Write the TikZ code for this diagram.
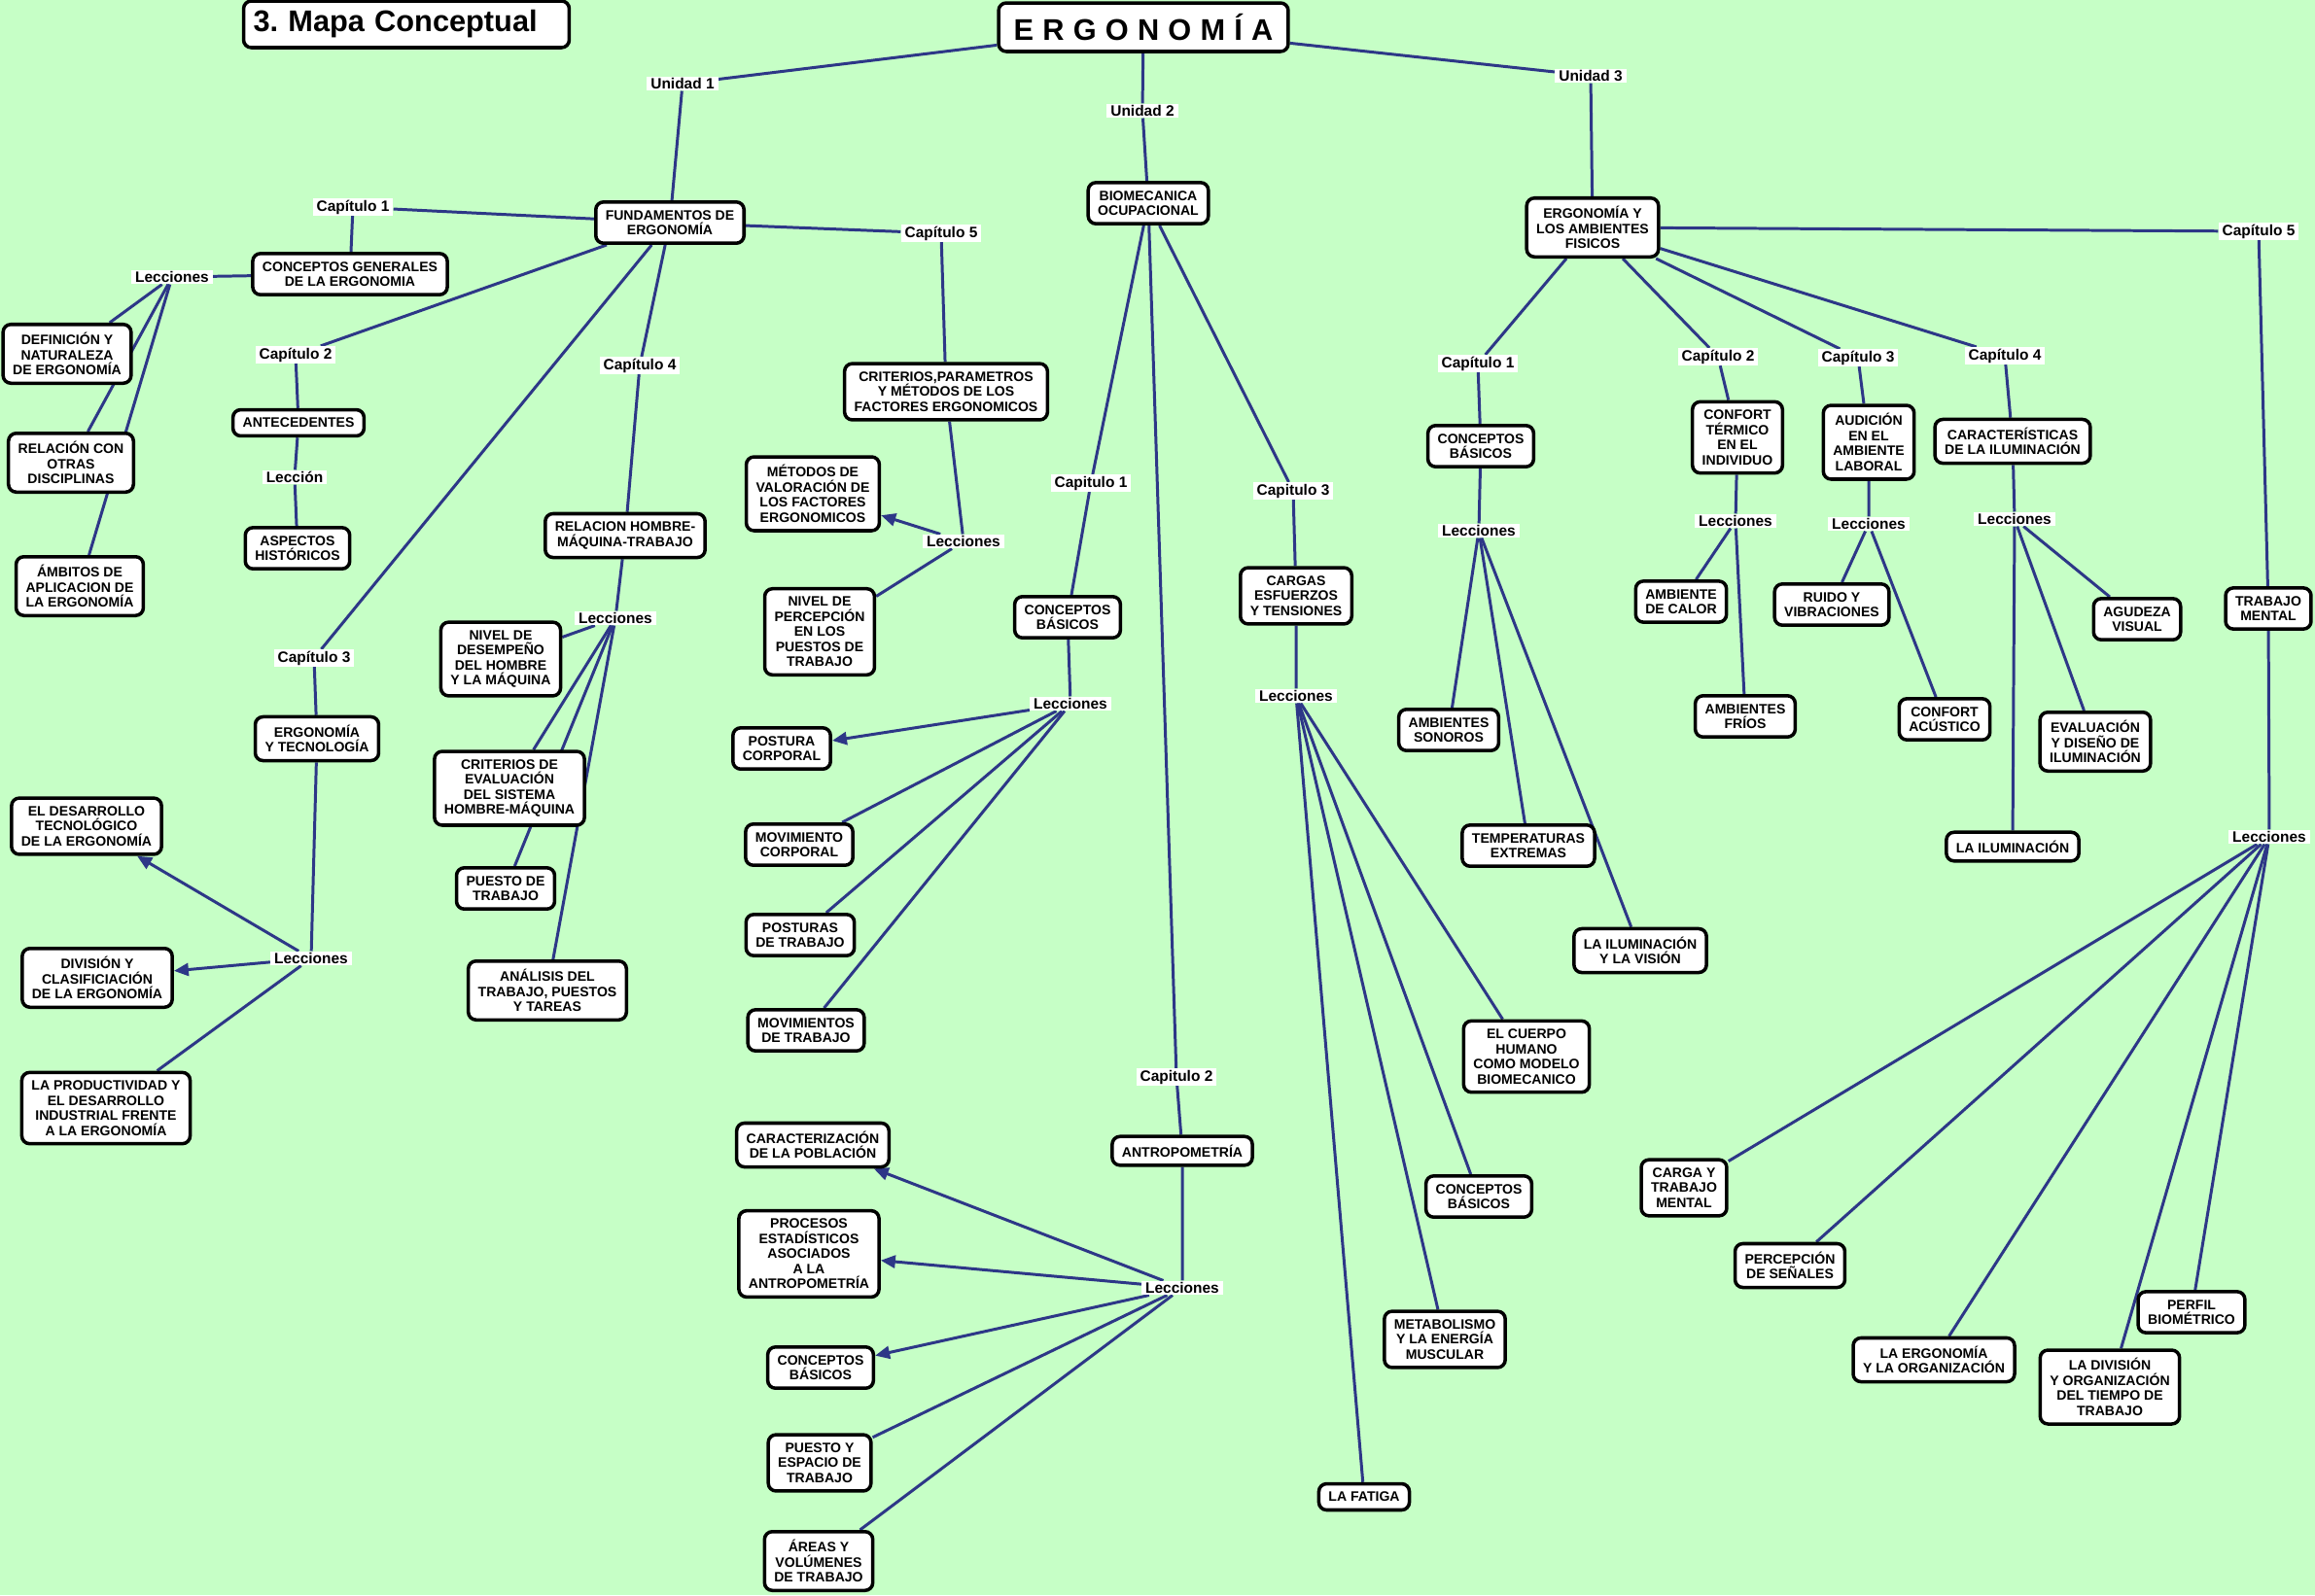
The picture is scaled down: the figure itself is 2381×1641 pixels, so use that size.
\documentclass[tikz,border=0pt]{standalone}
\usepackage{fontspec}
\setmainfont{Liberation Sans}
\usepackage{tikz}
\usepackage{xcolor}
\usetikzlibrary{shapes,arrows.meta,positioning,calc}
\definecolor{verdefondo}{RGB}{198,255,198}
\definecolor{azul}{RGB}{45,55,135}
\pgfdeclarelayer{bg}
\pgfsetlayers{bg,main}

\begin{document}
\begin{tikzpicture}[x=0.02cm,y=-0.02cm,
  concepto/.style={rectangle, draw, fill=white, rounded corners=0.16cm, line width=2pt, align=center, inner xsep=0.2cm, inner ysep=0.17cm, font=\fontsize{8}{8.8}\selectfont\bfseries},
  enlace/.style={fill=white, inner xsep=0.08cm, inner ysep=0.03cm, font=\fontsize{8.8}{10}\selectfont\bfseries},
  linea/.style={draw=azul, line width=1.7pt},
  flecha/.style={linea, -{Triangle[length=0.3cm,width=0.26cm]}}]

\useasboundingbox (0,0) rectangle (2381,1641);

\node[concepto, font=\fontsize{17.5}{20}\selectfont\bfseries, text width=6.3cm, align=left, minimum height=0.96cm] (titulo) at (418,25) {3.\ Mapa Conceptual};
\node[concepto, font=\fontsize{17.5}{20}\selectfont\bfseries\addfontfeatures{LetterSpace=30}, minimum width=5.96cm, minimum height=1cm] (ergo) at (1176,28) {ERGONOMÍA};

\node[enlace] (uni1) at (702,86) {Unidad 1};
\node[enlace] (uni2) at (1175,114) {Unidad 2};
\node[enlace] (uni3) at (1636,78) {Unidad 3};

% unidad 1
\node[concepto] (fund) at (689,229) {FUNDAMENTOS DE\\ERGONOMÍA};
\node[enlace] (cap11) at (363,213) {Capítulo 1};
\node[concepto] (cgen) at (360,282) {CONCEPTOS GENERALES\\DE LA ERGONOMIA};
\node[enlace] (lec11) at (177,285) {Lecciones};
\node[concepto] (defi) at (69,364) {DEFINICIÓN Y\\NATURALEZA\\DE ERGONOMÍA};
\node[concepto] (rela) at (73,476) {RELACIÓN CON\\OTRAS\\DISCIPLINAS};
\node[concepto] (ambi) at (82,603) {ÁMBITOS DE\\APLICACION DE\\LA ERGONOMÍA};
\node[enlace] (cap12) at (304,365) {Capítulo 2};
\node[concepto] (ante) at (307,435) {ANTECEDENTES};
\node[enlace] (lec12) at (303,491) {Lección};
\node[concepto] (aspe) at (306,564) {ASPECTOS\\HISTÓRICOS};
\node[enlace] (cap13) at (323,677) {Capítulo 3};
\node[concepto] (etec) at (326,760) {ERGONOMÍA\\Y TECNOLOGÍA};
\node[enlace] (lec13) at (320,986) {Lecciones};
\node[concepto] (desa) at (89,850) {EL DESARROLLO\\TECNOLÓGICO\\DE LA ERGONOMÍA};
\node[concepto] (divi) at (100,1006) {DIVISIÓN Y\\CLASIFICIACIÓN\\DE LA ERGONOMÍA};
\node[concepto] (prod) at (109,1140) {LA PRODUCTIVIDAD Y\\EL DESARROLLO\\INDUSTRIAL FRENTE\\A LA ERGONOMÍA};
\node[enlace] (cap14) at (658,376) {Capítulo 4};
\node[concepto] (rhmt) at (643,551) {RELACION HOMBRE-\\MÁQUINA-TRABAJO};
\node[enlace] (lec14) at (633,636) {Lecciones};
\node[concepto] (ndes) at (515,678) {NIVEL DE\\DESEMPEÑO\\DEL HOMBRE\\Y LA MÁQUINA};
\node[concepto] (crit) at (524,811) {CRITERIOS DE\\EVALUACIÓN\\DEL SISTEMA\\HOMBRE-MÁQUINA};
\node[concepto] (ptra) at (520,914) {PUESTO DE\\TRABAJO};
\node[concepto] (anal) at (563,1019) {ANÁLISIS DEL\\TRABAJO, PUESTOS\\Y TAREAS};
\node[enlace] (cap15) at (968,240) {Capítulo 5};
\node[concepto] (cpar) at (973,403) {CRITERIOS,PARAMETROS\\Y MÉTODOS DE LOS\\FACTORES ERGONOMICOS};
\node[enlace] (lec15) at (991,557) {Lecciones};
\node[concepto] (mval) at (836,508) {MÉTODOS DE\\VALORACIÓN DE\\LOS FACTORES\\ERGONOMICOS};
\node[concepto] (nper) at (843,650) {NIVEL DE\\PERCEPCIÓN\\EN LOS\\PUESTOS DE\\TRABAJO};

% unidad 2
\node[concepto] (biom) at (1181,209) {BIOMECANICA\\OCUPACIONAL};
\node[enlace] (cap21) at (1122,497) {Capitulo 1};
\node[concepto] (cbas21) at (1098,635) {CONCEPTOS\\BÁSICOS};
\node[enlace] (lec21) at (1101,724) {Lecciones};
\node[concepto] (post) at (804,770) {POSTURA\\CORPORAL};
\node[concepto] (movc) at (822,869) {MOVIMIENTO\\CORPORAL};
\node[concepto] (pstr) at (823,962) {POSTURAS\\DE TRABAJO};
\node[concepto] (movt) at (829,1060) {MOVIMIENTOS\\DE TRABAJO};
\node[enlace] (cap22) at (1210,1108) {Capitulo 2};
\node[concepto] (antr) at (1216,1184) {ANTROPOMETRÍA};
\node[enlace] (lec22) at (1216,1325) {Lecciones};
\node[concepto] (cara) at (836,1178) {CARACTERIZACIÓN\\DE LA POBLACIÓN};
\node[concepto] (proc) at (832,1290) {PROCESOS\\ESTADÍSTICOS\\ASOCIADOS\\A LA\\ANTROPOMETRÍA};
\node[concepto] (cbas22) at (844,1407) {CONCEPTOS\\BÁSICOS};
\node[concepto] (pesp) at (843,1505) {PUESTO Y\\ESPACIO DE\\TRABAJO};
\node[concepto] (area) at (842,1606) {ÁREAS Y\\VOLÚMENES\\DE TRABAJO};
\node[enlace] (cap23) at (1330,505) {Capitulo 3};
\node[concepto] (carg) at (1333,613) {CARGAS\\ESFUERZOS\\Y TENSIONES};
\node[enlace] (lec23) at (1333,716) {Lecciones};
\node[concepto] (cuer) at (1570,1087) {EL CUERPO\\HUMANO\\COMO MODELO\\BIOMECANICO};
\node[concepto] (cbas23) at (1521,1231) {CONCEPTOS\\BÁSICOS};
\node[concepto] (meta) at (1486,1378) {METABOLISMO\\Y LA ENERGÍA\\MUSCULAR};
\node[concepto] (fati) at (1403,1540) {LA FATIGA};

% unidad 3
\node[concepto] (eamb) at (1638,234) {ERGONOMÍA Y\\LOS AMBIENTES\\FISICOS};
\node[enlace] (cap31) at (1520,374) {Capítulo 1};
\node[concepto] (cbas31) at (1523,459) {CONCEPTOS\\BÁSICOS};
\node[enlace] (lec31) at (1521,546) {Lecciones};
\node[concepto] (sono) at (1490,751) {AMBIENTES\\SONOROS};
\node[concepto] (temp) at (1572,870) {TEMPERATURAS\\EXTREMAS};
\node[concepto] (ivis) at (1687,978) {LA ILUMINACIÓN\\Y LA VISIÓN};
\node[enlace] (cap32) at (1767,367) {Capítulo 2};
\node[concepto] (conf) at (1787,450) {CONFORT\\TÉRMICO\\EN EL\\INDIVIDUO};
\node[enlace] (lec32) at (1785,536) {Lecciones};
\node[concepto] (calo) at (1729,619) {AMBIENTE\\DE CALOR};
\node[concepto] (frio) at (1795,737) {AMBIENTES\\FRÍOS};
\node[enlace] (cap33) at (1911,368) {Capítulo 3};
\node[concepto] (audi) at (1922,455) {AUDICIÓN\\EN EL\\AMBIENTE\\LABORAL};
\node[enlace] (lec33) at (1922,539) {Lecciones};
\node[concepto] (ruid) at (1884,622) {RUIDO Y\\VIBRACIONES};
\node[concepto] (acus) at (2000,740) {CONFORT\\ACÚSTICO};
\node[enlace] (cap34) at (2062,366) {Capítulo 4};
\node[concepto] (cilu) at (2070,454) {CARACTERÍSTICAS\\DE LA ILUMINACIÓN};
\node[enlace] (lec34) at (2072,534) {Lecciones};
\node[concepto] (agud) at (2198,637) {AGUDEZA\\VISUAL};
\node[concepto] (edis) at (2155,763) {EVALUACIÓN\\Y DISEÑO DE\\ILUMINACIÓN};
\node[concepto] (ilum) at (2070,871) {LA ILUMINACIÓN};
\node[enlace] (cap35) at (2323,238) {Capítulo 5};
\node[concepto] (tmen) at (2333,626) {TRABAJO\\MENTAL};
\node[enlace] (lec35) at (2334,861) {Lecciones};
\node[concepto] (ctme) at (1732,1222) {CARGA Y\\TRABAJO\\MENTAL};
\node[concepto] (psen) at (1841,1302) {PERCEPCIÓN\\DE SEÑALES};
\node[concepto] (eorg) at (1989,1399) {LA ERGONOMÍA\\Y LA ORGANIZACIÓN};
\node[concepto] (dorg) at (2170,1427) {LA DIVISIÓN\\Y ORGANIZACIÓN\\DEL TIEMPO DE\\TRABAJO};
\node[concepto] (pbio) at (2254,1350) {PERFIL\\BIOMÉTRICO};

\begin{pgfonlayer}{bg}
\fill[verdefondo] (0,0) rectangle (2381,1641);
\draw[linea] (ergo) -- (uni1) -- (fund);
\draw[linea] (ergo) -- (uni2) -- (biom);
\draw[linea] (ergo) -- (uni3) -- (eamb);

\draw[linea] (fund) -- (cap11) -- (cgen) -- (lec11);
\draw[linea] (lec11) -- (defi);
\draw[linea] (lec11) -- (rela);
\draw[linea] (lec11) -- (ambi);
\draw[linea] (fund) -- (cap12) -- (ante) -- (lec12) -- (aspe);
\draw[linea] (fund) -- (cap13) -- (etec) -- (lec13);
\draw[flecha] (lec13) -- (desa);
\draw[flecha] (lec13) -- (divi);
\draw[linea] (lec13) -- (prod);
\draw[linea] (fund) -- (cap14) -- (rhmt) -- (lec14);
\draw[linea] (lec14) -- (ndes);
\draw[linea] (lec14) -- (crit);
\draw[linea] (lec14) -- (ptra);
\draw[linea] (lec14) -- (anal);
\draw[linea] (fund) -- (cap15) -- (cpar) -- (lec15);
\draw[flecha] (lec15) -- (mval);
\draw[linea] (lec15) -- (nper);

\draw[linea] (biom) -- (cap21) -- (cbas21) -- (lec21);
\draw[flecha] (lec21) -- (post);
\draw[linea] (lec21) -- (movc);
\draw[linea] (lec21) -- (pstr);
\draw[linea] (lec21) -- (movt);
\draw[linea] (biom) -- (cap22) -- (antr) -- (lec22);
\draw[flecha] (lec22) -- (cara);
\draw[flecha] (lec22) -- (proc);
\draw[flecha] (lec22) -- (cbas22);
\draw[linea] (lec22) -- (pesp);
\draw[linea] (lec22) -- (area);
\draw[linea] (biom) -- (cap23) -- (carg) -- (lec23);
\draw[linea] (lec23) -- (cuer);
\draw[linea] (lec23) -- (cbas23);
\draw[linea] (lec23) -- (meta);
\draw[linea] (lec23) -- (fati);

\draw[linea] (eamb) -- (cap31) -- (cbas31) -- (lec31);
\draw[linea] (lec31) -- (sono);
\draw[linea] (lec31) -- (temp);
\draw[linea] (lec31) -- (ivis);
\draw[linea] (eamb) -- (cap32) -- (conf) -- (lec32);
\draw[linea] (lec32) -- (calo);
\draw[linea] (lec32) -- (frio);
\draw[linea] (eamb) -- (cap33) -- (audi) -- (lec33);
\draw[linea] (lec33) -- (ruid);
\draw[linea] (lec33) -- (acus);
\draw[linea] (eamb) -- (cap34) -- (cilu) -- (lec34);
\draw[linea] (lec34) -- (agud);
\draw[linea] (lec34) -- (edis);
\draw[linea] (lec34) -- (ilum);
\draw[linea] (eamb) -- (cap35) -- (tmen) -- (lec35);
\draw[linea] (lec35) -- (ctme);
\draw[linea] (lec35) -- (psen);
\draw[linea] (lec35) -- (eorg);
\draw[linea] (lec35) -- (dorg);
\draw[linea] (lec35) -- (pbio);
\end{pgfonlayer}
\end{tikzpicture}
\end{document}
